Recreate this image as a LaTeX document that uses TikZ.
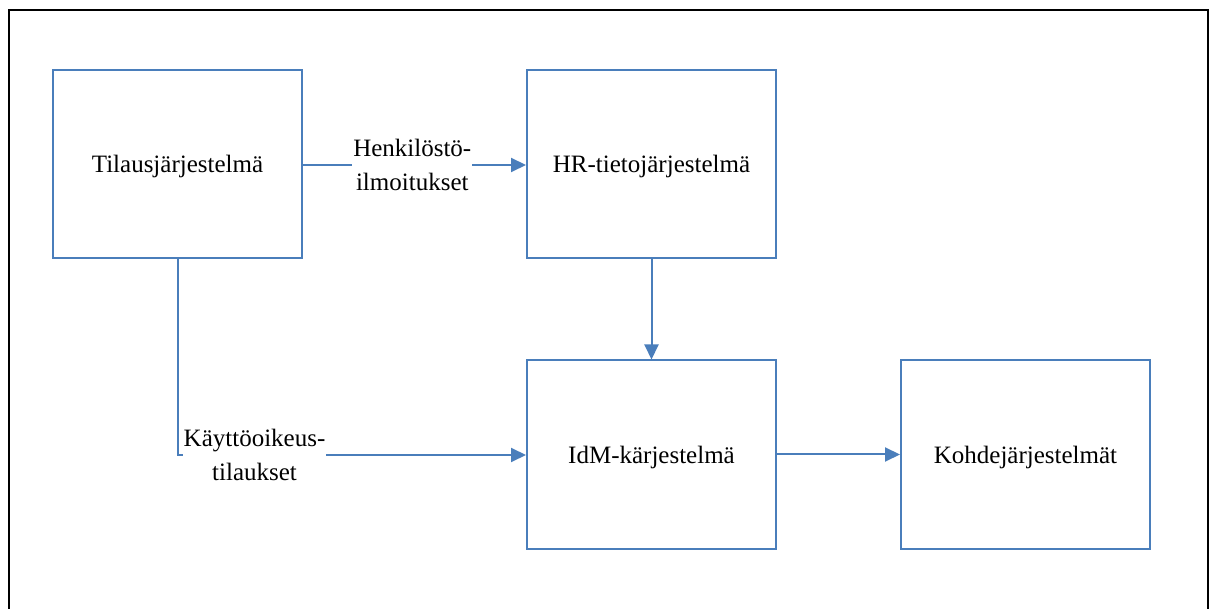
\documentclass[tikz,border=0pt]{standalone}
\usepackage{fontspec}
\setmainfont{Liberation Serif}
\usetikzlibrary{arrows.meta}
\definecolor{boxblue}{HTML}{4A7EBB}
\tikzset{
  sysbox/.style={draw=boxblue, line width=2pt, minimum width=249pt, minimum height=188pt, inner sep=0pt, text depth=0pt, font=\fontsize{25}{29}\selectfont},
  conn/.style={draw=boxblue, line width=2pt, -{Triangle[length=15pt,width=14pt]}},
  lbl/.style={fill=white, inner sep=1pt, align=center, font=\fontsize{25}{34}\selectfont}
}
\begin{document}
\begin{tikzpicture}[x=1pt,y=-1pt]
\useasboundingbox (0,0) rectangle (1216,609);
\draw[line width=2.5pt, black] (9,615) -- (9,10) -- (1208,10) -- (1208,615);
\node[sysbox] (tilaus) at (177.5,164) {Tilausjärjestelmä};
\node[sysbox] (hr) at (651.5,164) {HR-tietojärjestelmä};
\node[sysbox] (idm) at (651.5,454.5) {IdM-kärjestelmä};
\node[sysbox] (kohde) at (1025.5,454.5) {Kohdejärjestelmät};
\coordinate (corner) at (178,455);
\draw[conn] (tilaus.east |- 0,165) -- node[lbl, pos=0.49] {Henkilöstö-\\ilmoitukset} (hr.west |- 0,165);
\draw[conn] (tilaus.south -| corner) -- (corner) -- node[lbl, pos=0.22] {Käyttöoikeus-\\tilaukset} (idm.west |- corner);
\draw[conn] (hr.south) -- (idm.north);
\draw[conn] (idm.east) -- (kohde.west);
\end{tikzpicture}
\end{document}
